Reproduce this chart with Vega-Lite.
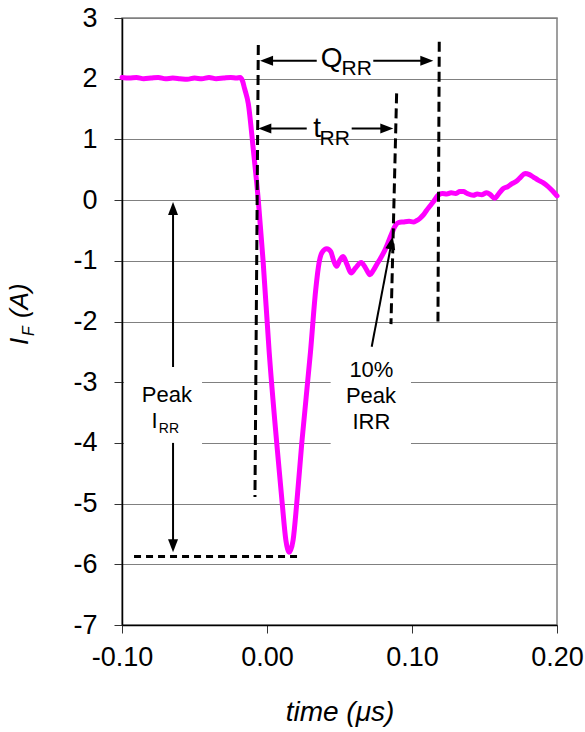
{
  "$schema": "https://vega.github.io/schema/vega-lite/v6.json",
  "width": 435,
  "height": 607,
  "autosize": {"type": "none"},
  "padding": {"left": 122, "top": 18, "right": 28, "bottom": 107},
  "background": "white",
  "config": {
    "font": "Liberation Sans",
    "view": {"stroke": "#808080", "strokeWidth": 1.5},
    "axis": {
      "labelFont": "Liberation Sans",
      "titleFont": "Liberation Sans",
      "labelColor": "#000",
      "titleColor": "#000",
      "domainColor": "#000",
      "domainWidth": 1.5,
      "tickColor": "#333",
      "tickSize": 8,
      "tickWidth": 1,
      "gridColor": "#808080",
      "gridWidth": 1.2,
      "gridOpacity": 1
    }
  },
  "datasets": {
    "curve": [
      {"x": -0.100, "y": 2.02}, {"x": -0.095, "y": 2.01}, {"x": -0.090, "y": 2.02}, {"x": -0.085, "y": 2.00},
      {"x": -0.080, "y": 2.01}, {"x": -0.075, "y": 2.02}, {"x": -0.070, "y": 2.00}, {"x": -0.065, "y": 2.01},
      {"x": -0.060, "y": 2.00}, {"x": -0.055, "y": 1.99}, {"x": -0.050, "y": 2.01}, {"x": -0.045, "y": 2.00},
      {"x": -0.040, "y": 2.02}, {"x": -0.035, "y": 2.00}, {"x": -0.030, "y": 2.01}, {"x": -0.025, "y": 2.02},
      {"x": -0.021, "y": 2.01}, {"x": -0.0185, "y": 2.02}, {"x": -0.0170, "y": 1.97}, {"x": -0.0155, "y": 1.84},
      {"x": -0.0129, "y": 1.59}, {"x": -0.0094, "y": 0.82}, {"x": -0.0060, "y": 0.0}, {"x": -0.0027, "y": -1.0},
      {"x": 0.0015, "y": -2.5}, {"x": 0.0067, "y": -4.0}, {"x": 0.0105, "y": -5.0}, {"x": 0.0130, "y": -5.6},
      {"x": 0.0154, "y": -5.8}, {"x": 0.0180, "y": -5.6}, {"x": 0.0205, "y": -5.0}, {"x": 0.0240, "y": -4.0},
      {"x": 0.0300, "y": -2.5}, {"x": 0.0335, "y": -1.5}, {"x": 0.0360, "y": -1.02}, {"x": 0.0380, "y": -0.86},
      {"x": 0.0412, "y": -0.80}, {"x": 0.0440, "y": -0.85}, {"x": 0.0460, "y": -1.0}, {"x": 0.0480, "y": -1.09},
      {"x": 0.0500, "y": -1.0}, {"x": 0.0525, "y": -0.93}, {"x": 0.0550, "y": -1.05}, {"x": 0.0580, "y": -1.2},
      {"x": 0.0610, "y": -1.12}, {"x": 0.0650, "y": -1.03}, {"x": 0.0680, "y": -1.12}, {"x": 0.0710, "y": -1.23},
      {"x": 0.0730, "y": -1.17}, {"x": 0.0757, "y": -1.06}, {"x": 0.0785, "y": -0.95}, {"x": 0.0814, "y": -0.82},
      {"x": 0.0860, "y": -0.55}, {"x": 0.0885, "y": -0.42}, {"x": 0.0906, "y": -0.37}, {"x": 0.0940, "y": -0.36},
      {"x": 0.0980, "y": -0.35}, {"x": 0.1010, "y": -0.36}, {"x": 0.1030, "y": -0.34}, {"x": 0.1055, "y": -0.30},
      {"x": 0.1080, "y": -0.24}, {"x": 0.1100, "y": -0.17}, {"x": 0.1120, "y": -0.11}, {"x": 0.1150, "y": -0.02},
      {"x": 0.1180, "y": 0.08}, {"x": 0.1210, "y": 0.11}, {"x": 0.1240, "y": 0.10}, {"x": 0.1270, "y": 0.12},
      {"x": 0.1300, "y": 0.11}, {"x": 0.1330, "y": 0.14}, {"x": 0.1354, "y": 0.14}, {"x": 0.1380, "y": 0.11},
      {"x": 0.1423, "y": 0.08}, {"x": 0.1450, "y": 0.10}, {"x": 0.1480, "y": 0.09}, {"x": 0.1515, "y": 0.12},
      {"x": 0.1540, "y": 0.09}, {"x": 0.1570, "y": 0.03}, {"x": 0.1600, "y": 0.11}, {"x": 0.1630, "y": 0.19},
      {"x": 0.1660, "y": 0.22}, {"x": 0.1690, "y": 0.27}, {"x": 0.1720, "y": 0.31}, {"x": 0.1750, "y": 0.38},
      {"x": 0.1780, "y": 0.44}, {"x": 0.1810, "y": 0.42}, {"x": 0.1837, "y": 0.38}, {"x": 0.1870, "y": 0.33},
      {"x": 0.1906, "y": 0.285}, {"x": 0.1940, "y": 0.22}, {"x": 0.1970, "y": 0.15}, {"x": 0.2000, "y": 0.07}
    ],
    "boxes": [
      {"x": -0.0986, "x2": -0.0448, "y": -2.77, "y2": -4.03},
      {"x": 0.0439, "x2": 0.0993, "y": -2.45, "y2": -4.03}
    ],
    "dashes": [
      {"kind": "v", "x": -0.0060, "y": 2.554, "x2": -0.0083, "y2": -4.89},
      {"kind": "v", "x": 0.0894, "y": 1.758, "x2": 0.0855, "y2": -2.043},
      {"kind": "v", "x": 0.1188, "y": 2.608, "x2": 0.1179, "y2": -2.0},
      {"kind": "h", "x": -0.0917, "y": -5.87, "x2": 0.0216, "y2": -5.87}
    ],
    "arrows": [
      {"x": -0.0008, "y": 2.295, "x2": 0.0343, "y2": 2.295},
      {"x": 0.0733, "y": 2.295, "x2": 0.1107, "y2": 2.295},
      {"x": -0.0020, "y": 1.181, "x2": 0.0274, "y2": 1.181},
      {"x": 0.0584, "y": 1.181, "x2": 0.0831, "y2": 1.181},
      {"x": -0.0648, "y": -2.75, "x2": -0.0648, "y2": -0.133},
      {"x": -0.0648, "y": -4.0, "x2": -0.0648, "y2": -5.70},
      {"x": 0.0722, "y": -2.417, "x2": 0.0859, "y2": -0.697}
    ],
    "heads": [
      {"x": -0.0048, "y": 2.295, "dir": "left"},
      {"x": 0.1147, "y": 2.295, "dir": "right"},
      {"x": -0.0060, "y": 1.181, "dir": "left"},
      {"x": 0.0871, "y": 1.181, "dir": "right"},
      {"x": -0.0648, "y": -0.033, "dir": "up"},
      {"x": -0.0648, "y": -5.80, "dir": "down"},
      {"x": 0.0867, "y": -0.60, "dir": "slant"}
    ],
    "labels": [
      {"role": "big", "x": 0.0446, "y": 2.19, "text": "Q"},
      {"role": "sub", "x": 0.0619, "y": 2.06, "text": "RR"},
      {"role": "big", "x": 0.0345, "y": 1.04, "text": "t"},
      {"role": "sub", "x": 0.0467, "y": 0.906, "text": "RR"},
      {"role": "note", "x": -0.0690, "y": -3.323, "text": "Peak"},
      {"role": "note", "x": -0.0775, "y": -3.761, "text": "I"},
      {"role": "tiny", "x": -0.0676, "y": -3.845, "text": "RR"},
      {"role": "note", "x": 0.0720, "y": -2.911, "text": "10%"},
      {"role": "note", "x": 0.0717, "y": -3.349, "text": "Peak"},
      {"role": "note", "x": 0.0720, "y": -3.778, "text": "IRR"},
      {"role": "ytitle", "x": -0.1648, "y": -2.389, "text": "I"},
      {"role": "ytitlesub", "x": -0.1607, "y": -2.24, "text": "F"},
      {"role": "ytitle", "x": -0.1648, "y": -1.944, "text": "(A)"}
    ]
  },
  "layer": [
    {
      "data": {"name": "curve"},
      "mark": {"type": "line", "color": "#FF00FF", "strokeWidth": 5, "strokeCap": "round", "strokeJoin": "round", "interpolate": "monotone"},
      "encoding": {
        "x": {
          "field": "x", "type": "quantitative",
          "scale": {"domain": [-0.1, 0.2], "nice": false, "zero": false},
          "axis": {
            "values": [-0.1, 0, 0.1, 0.2],
            "labelExpr": "replace(format(datum.value, '.2f'), '\u2212', '-')",
            "grid": false,
            "labelFontSize": 27,
            "labelPadding": 11,
            "labelFlush": false,
            "title": "time (μs)",
            "titleFontSize": 28,
            "titleFontStyle": "italic",
            "titleFontWeight": "normal",
            "titlePadding": 28
          }
        },
        "y": {
          "field": "y", "type": "quantitative",
          "scale": {"domain": [-7, 3], "nice": false, "zero": false},
          "axis": {
            "values": [-7, -6, -5, -4, -3, -2, -1, 0, 1, 2, 3],
            "labelExpr": "replace(format(datum.value, 'd'), '\u2212', '-')",
            "grid": true,
            "labelFontSize": 27,
            "labelPadding": 17,
            "labelFlush": false,
            "title": ""
          }
        }
      }
    },
    {
      "data": {"name": "boxes"},
      "mark": {"type": "rect", "fill": "white", "stroke": null},
      "encoding": {
        "x": {"field": "x", "type": "quantitative"},
        "x2": {"field": "x2"},
        "y": {"field": "y", "type": "quantitative"},
        "y2": {"field": "y2"}
      }
    },
    {
      "data": {"name": "dashes"},
      "transform": [{"filter": "datum.kind === 'v'"}],
      "mark": {"type": "rule", "color": "#000", "strokeWidth": 3, "strokeDash": [10, 5]},
      "encoding": {
        "x": {"field": "x", "type": "quantitative"},
        "x2": {"field": "x2"},
        "y": {"field": "y", "type": "quantitative"},
        "y2": {"field": "y2"}
      }
    },
    {
      "data": {"name": "dashes"},
      "transform": [{"filter": "datum.kind === 'h'"}],
      "mark": {"type": "rule", "color": "#000", "strokeWidth": 3, "strokeDash": [7, 5]},
      "encoding": {
        "x": {"field": "x", "type": "quantitative"},
        "x2": {"field": "x2"},
        "y": {"field": "y", "type": "quantitative"},
        "y2": {"field": "y2"}
      }
    },
    {
      "data": {"name": "arrows"},
      "mark": {"type": "rule", "color": "#000", "strokeWidth": 2},
      "encoding": {
        "x": {"field": "x", "type": "quantitative"},
        "x2": {"field": "x2"},
        "y": {"field": "y", "type": "quantitative"},
        "y2": {"field": "y2"}
      }
    },
    {
      "data": {"name": "heads"},
      "transform": [{"filter": "datum.dir === 'up'"}],
      "mark": {"type": "point", "shape": "M0,0L-0.5,1.3L0.5,1.3Z", "size": 400, "filled": true, "color": "#000", "opacity": 1, "strokeWidth": 0, "angle": 0},
      "encoding": {
        "x": {"field": "x", "type": "quantitative"},
        "y": {"field": "y", "type": "quantitative"}
      }
    },
    {
      "data": {"name": "heads"},
      "transform": [{"filter": "datum.dir === 'down'"}],
      "mark": {"type": "point", "shape": "M0,0L-0.5,1.3L0.5,1.3Z", "size": 400, "filled": true, "color": "#000", "opacity": 1, "strokeWidth": 0, "angle": 180},
      "encoding": {
        "x": {"field": "x", "type": "quantitative"},
        "y": {"field": "y", "type": "quantitative"}
      }
    },
    {
      "data": {"name": "heads"},
      "transform": [{"filter": "datum.dir === 'left'"}],
      "mark": {"type": "point", "shape": "M0,0L-0.5,1.3L0.5,1.3Z", "size": 400, "filled": true, "color": "#000", "opacity": 1, "strokeWidth": 0, "angle": 270},
      "encoding": {
        "x": {"field": "x", "type": "quantitative"},
        "y": {"field": "y", "type": "quantitative"}
      }
    },
    {
      "data": {"name": "heads"},
      "transform": [{"filter": "datum.dir === 'right'"}],
      "mark": {"type": "point", "shape": "M0,0L-0.5,1.3L0.5,1.3Z", "size": 400, "filled": true, "color": "#000", "opacity": 1, "strokeWidth": 0, "angle": 90},
      "encoding": {
        "x": {"field": "x", "type": "quantitative"},
        "y": {"field": "y", "type": "quantitative"}
      }
    },
    {
      "data": {"name": "heads"},
      "transform": [{"filter": "datum.dir === 'slant'"}],
      "mark": {"type": "point", "shape": "M0,0L-0.5,1.3L0.5,1.3Z", "size": 400, "filled": true, "color": "#000", "opacity": 1, "strokeWidth": 0, "angle": 10.8},
      "encoding": {
        "x": {"field": "x", "type": "quantitative"},
        "y": {"field": "y", "type": "quantitative"}
      }
    },
    {
      "data": {"name": "labels"},
      "transform": [{"filter": "datum.role === 'big'"}],
      "mark": {"type": "text", "fontSize": 28, "align": "center", "baseline": "alphabetic", "color": "#000"},
      "encoding": {
        "x": {"field": "x", "type": "quantitative"},
        "y": {"field": "y", "type": "quantitative"},
        "text": {"field": "text"}
      }
    },
    {
      "data": {"name": "labels"},
      "transform": [{"filter": "datum.role === 'sub'"}],
      "mark": {"type": "text", "fontSize": 21, "align": "center", "baseline": "alphabetic", "color": "#000"},
      "encoding": {
        "x": {"field": "x", "type": "quantitative"},
        "y": {"field": "y", "type": "quantitative"},
        "text": {"field": "text"}
      }
    },
    {
      "data": {"name": "labels"},
      "transform": [{"filter": "datum.role === 'note'"}],
      "mark": {"type": "text", "fontSize": 22, "align": "center", "baseline": "alphabetic", "color": "#000"},
      "encoding": {
        "x": {"field": "x", "type": "quantitative"},
        "y": {"field": "y", "type": "quantitative"},
        "text": {"field": "text"}
      }
    },
    {
      "data": {"name": "labels"},
      "transform": [{"filter": "datum.role === 'tiny'"}],
      "mark": {"type": "text", "fontSize": 14, "align": "center", "baseline": "alphabetic", "color": "#000"},
      "encoding": {
        "x": {"field": "x", "type": "quantitative"},
        "y": {"field": "y", "type": "quantitative"},
        "text": {"field": "text"}
      }
    },
    {
      "data": {"name": "labels"},
      "transform": [{"filter": "datum.role === 'ytitle'"}],
      "mark": {"type": "text", "fontSize": 26, "fontStyle": "italic", "angle": 270, "align": "left", "baseline": "alphabetic", "color": "#000"},
      "encoding": {
        "x": {"field": "x", "type": "quantitative"},
        "y": {"field": "y", "type": "quantitative"},
        "text": {"field": "text"}
      }
    },
    {
      "data": {"name": "labels"},
      "transform": [{"filter": "datum.role === 'ytitlesub'"}],
      "mark": {"type": "text", "fontSize": 16, "fontStyle": "italic", "angle": 270, "align": "left", "baseline": "alphabetic", "color": "#000"},
      "encoding": {
        "x": {"field": "x", "type": "quantitative"},
        "y": {"field": "y", "type": "quantitative"},
        "text": {"field": "text"}
      }
    }
  ]
}
